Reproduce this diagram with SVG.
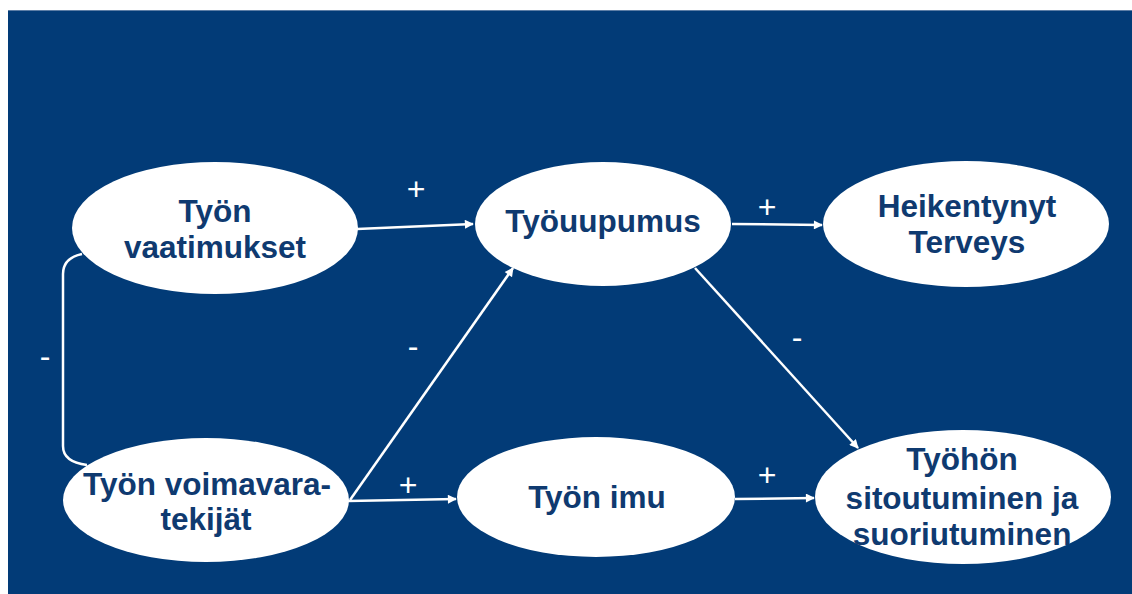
<svg xmlns="http://www.w3.org/2000/svg" width="1132" height="594" viewBox="0 0 1132 594">
<defs>
<style>
.node ellipse{fill:#ffffff;stroke:none}
.node text{font-family:"Liberation Sans",Arial,sans-serif;font-weight:bold;font-size:31.5px;fill:#0f3a70;text-anchor:middle}
.conn{stroke:#ffffff;stroke-width:2.5;fill:none}
.lbl{font-family:"Liberation Sans",Arial,sans-serif;font-size:32px;fill:#ffffff;text-anchor:middle}
</style>
<marker id="arr" viewBox="0 0 10 10" refX="9" refY="5" markerWidth="4" markerHeight="3.6" orient="auto" markerUnits="strokeWidth">
<path d="M0,0 L10,5 L0,10 z" fill="#ffffff"/>
</marker>
</defs>
<rect x="0" y="0" width="1132" height="594" fill="#ffffff"/>
<rect x="8" y="10" width="1124" height="584" fill="#023b77"/>
<line x1="8" y1="10.5" x2="1132" y2="10.5" stroke="#5d7ea6" stroke-width="1"/>

<g id="connectors">
<path class="conn" d="M82,254 Q63,258 63,274 L63,446 Q63,462 87,465" stroke-width="2"/>
<line class="conn" x1="357" y1="229" x2="473" y2="224" marker-end="url(#arr)"/>
<line class="conn" x1="732" y1="224" x2="822" y2="225" marker-end="url(#arr)"/>
<line class="conn" x1="350" y1="500" x2="513" y2="268" marker-end="url(#arr)"/>
<line class="conn" x1="348" y1="501" x2="456" y2="499" marker-end="url(#arr)"/>
<line class="conn" x1="735" y1="499" x2="814" y2="498" marker-end="url(#arr)"/>
<line class="conn" x1="695" y1="268" x2="858" y2="448" marker-end="url(#arr)"/>
<text class="lbl" x="416" y="200">+</text>
<text class="lbl" x="767" y="218">+</text>
<text class="lbl" x="408" y="496">+</text>
<text class="lbl" x="767" y="486">+</text>
<text class="lbl" x="45" y="367">-</text>
<text class="lbl" x="413" y="357">-</text>
<text class="lbl" x="797" y="348">-</text>
</g>

<g id="node-vaatimukset" class="node">
<ellipse cx="215" cy="228" rx="143" ry="66"/>
<text x="215" y="222">Työn</text>
<text x="215" y="258">vaatimukset</text>
</g>
<g id="node-tyouupumus" class="node">
<ellipse cx="603" cy="224" rx="128" ry="62"/>
<text x="603" y="232">Työuupumus</text>
</g>
<g id="node-heikentynyt" class="node">
<ellipse cx="966" cy="224" rx="143" ry="63"/>
<text x="967" y="217">Heikentynyt</text>
<text x="967" y="253">Terveys</text>
</g>
<g id="node-voimavara" class="node">
<ellipse cx="206" cy="500" rx="143" ry="62"/>
<text x="207" y="495">Työn voimavara-</text>
<text x="206" y="530">tekijät</text>
</g>
<g id="node-imu" class="node">
<ellipse cx="596" cy="497" rx="139" ry="60"/>
<text x="597" y="508">Työn imu</text>
</g>
<g id="node-tyohon" class="node">
<ellipse cx="963" cy="497" rx="148" ry="67"/>
<text x="962" y="470">Työhön</text>
<text x="962" y="509">sitoutuminen ja</text>
<text x="962" y="545">suoriutuminen</text>
</g>
</svg>
